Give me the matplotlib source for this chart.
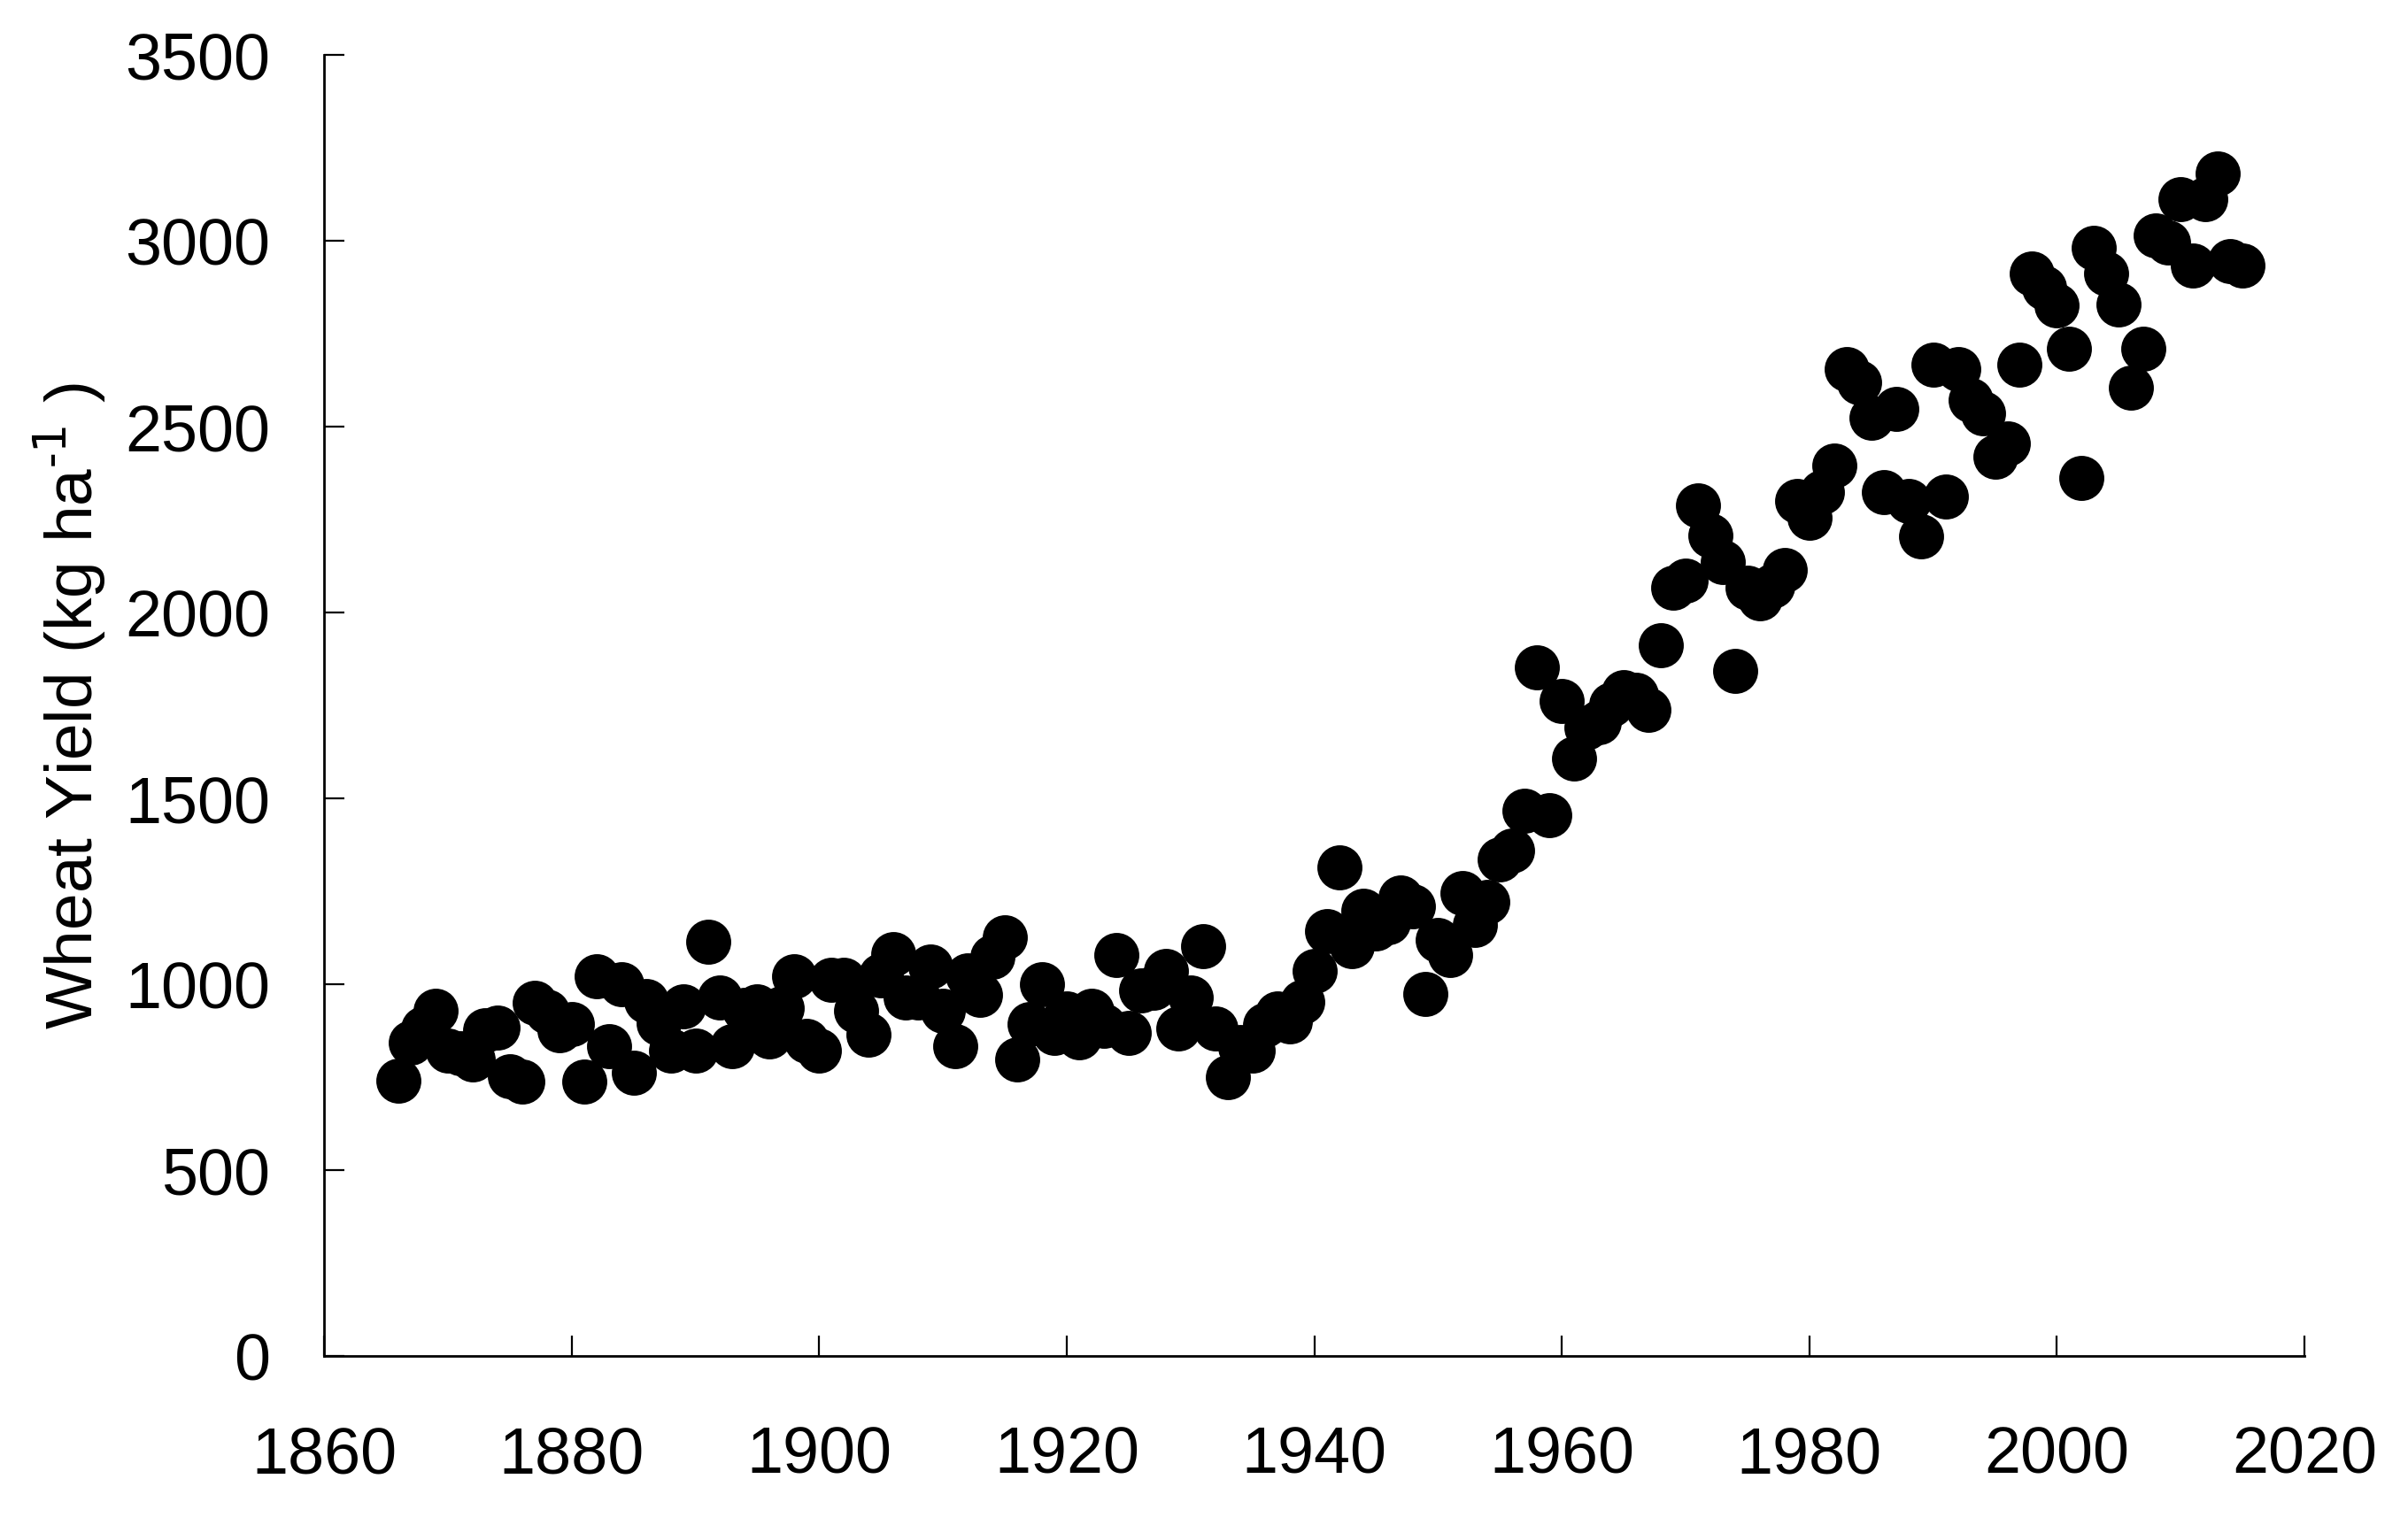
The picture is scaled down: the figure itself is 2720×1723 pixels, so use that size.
import numpy as np
import matplotlib
matplotlib.use("Agg")
import matplotlib.pyplot as plt

plt.rcParams['font.family'] = ['Liberation Sans', 'DejaVu Sans']

years = list(range(1866, 2016))

yield_1866_1905 = [740, 843, 880, 928, 820, 815, 797, 875, 882, 752,
                   738, 950, 925, 875, 892, 738, 1021, 834, 999, 761,
                   955, 895, 820, 939, 820, 1114, 963, 832, 930, 939,
                   860, 936, 1021, 848, 820, 1011, 1011, 928, 864, 1023]
yield_1906_1945 = [1080, 963, 963, 1047, 928, 832, 1023, 971, 1074, 1126,
                   797, 892, 999, 868, 920, 856, 928, 888, 1078, 868,
                   983, 990, 1035, 880, 963, 1102, 880, 749, 830, 820,
                   890, 920, 900, 951, 1035, 1142, 1314, 1102, 1197, 1150]
yield_1946_1985 = [1166, 1233, 1209, 973, 1118, 1078, 1245, 1158, 1221, 1336,
                   1360, 1467, 1853, 1455, 1761, 1606, 1690, 1705, 1752, 1785,
                   1777, 1737, 1911, 2066, 2086, 2288, 2207, 2134, 1842, 2066,
                   2038, 2070, 2114, 2300, 2253, 2324, 2395, 2653, 2618, 2522]
yield_1986_2015 = [2324, 2546, 2300, 2205, 2665, 2312, 2653, 2570, 2534, 2419,
                   2455, 2665, 2911, 2872, 2826, 2709, 2362, 2981, 2910, 2828,
                   2604, 2709, 3014, 2995, 3110, 2933, 3110, 3181, 2945, 2933]

wheat = yield_1866_1905 + yield_1906_1945 + yield_1946_1985 + yield_1986_2015

xticks = np.arange(1860, 2021, 20)
yticks = np.arange(0, 3501, 500)

fig = plt.figure(figsize=(13.6, 8.62), dpi=200)
ax = fig.add_axes([0.1346, 0.1108, 0.8224, 0.8529])

ax.scatter(years, wheat, s=300, color='black', edgecolors='black', zorder=3)

ax.set_xlim(1860, 2020)
ax.set_ylim(0, 3500)
ax.set_xticks(xticks)
ax.set_yticks(yticks)

for side in ['top', 'right']:
    ax.spines[side].set_visible(False)
for side in ['left', 'bottom']:
    ax.spines[side].set_linewidth(1.0)

ax.tick_params(axis='both', direction='in', length=8.3, width=0.8, labelsize=26.5)
ax.tick_params(axis='x', pad=28)
ax.tick_params(axis='y', pad=22)

# superscript with a plain hyphen like the original
ax.set_ylabel('Wheat Yield (kg ha$^{\\mathregular{\u2010}1}$ )', fontsize=27, labelpad=7)

fig.savefig('out.png', dpi=200)
